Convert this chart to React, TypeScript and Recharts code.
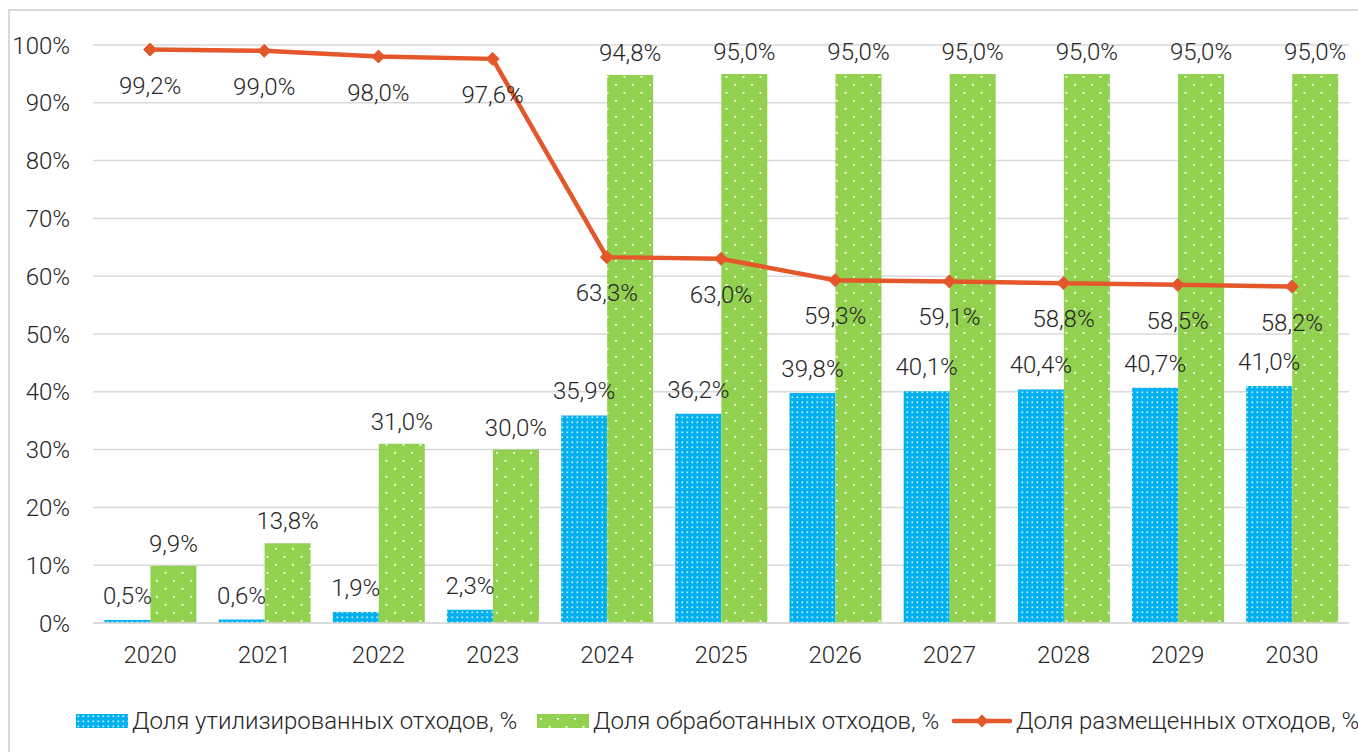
import React from 'react';
import {
  ComposedChart,
  Bar,
  Line,
  XAxis,
  YAxis,
  CartesianGrid,
  LabelList,
} from 'recharts';

const YEARS = ['2020', '2021', '2022', '2023', '2024', '2025', '2026', '2027', '2028', '2029', '2030'];
const UTILIZED = [0.5, 0.6, 1.9, 2.3, 35.9, 36.2, 39.8, 40.1, 40.4, 40.7, 41.0];
const PROCESSED = [9.9, 13.8, 31.0, 30.0, 94.8, 95.0, 95.0, 95.0, 95.0, 95.0, 95.0];
const PLACED = [99.2, 99.0, 98.0, 97.6, 63.3, 63.0, 59.3, 59.1, 58.8, 58.5, 58.2];
const Y_TICKS = [0, 10, 20, 30, 40, 50, 60, 70, 80, 90, 100];

const LEGEND_UTILIZED = 'Доля утилизированных отходов, %';
const LEGEND_PROCESSED = 'Доля обработанных отходов, %';
const LEGEND_PLACED = 'Доля размещенных отходов, %';

const BLUE = '#00B0F0';
const GREEN = '#92D050';
const ORANGE = '#E4572A';
const TEXT = '#262626';
const GRID = '#D9D9D9';
const FONT = 'Roboto, sans-serif';
const FS = 24;

const data = YEARS.map((year, i) => ({
  year,
  utilized: UTILIZED[i],
  processed: PROCESSED[i],
  placed: PLACED[i],
}));

const fmt = (v: any) => `${Number(v).toFixed(1).replace('.', ',')}%`;

function Patterns({ idPrefix = '' }: { idPrefix?: string }) {
  return (
    <defs>
      <pattern id={`${idPrefix}blueDots`} width={5} height={5} patternUnits="userSpaceOnUse">
        <rect width={5} height={5} fill={BLUE} />
        <rect x={1.5} y={1.5} width={1.6} height={1.6} fill="#fff" opacity={0.85} />
      </pattern>
      <pattern id={`${idPrefix}greenDots`} width={17} height={16} patternUnits="userSpaceOnUse">
        <rect width={17} height={16} fill={GREEN} />
        <rect x={3} y={4} width={2} height={1.6} fill="#fff" />
        <rect x={11.5} y={12} width={2} height={1.6} fill="#fff" />
      </pattern>
    </defs>
  );
}

const Diamond = (props: any) => {
  const { cx, cy } = props;
  if (cx == null || cy == null) return null;
  const r = 6.5;
  return (
    <polygon
      points={`${cx},${cy - r} ${cx + r},${cy} ${cx},${cy + r} ${cx - r},${cy}`}
      fill={ORANGE}
      stroke={ORANGE}
    />
  );
};

const labelStyle = { fontSize: FS, fill: TEXT, fontFamily: FONT, fontWeight: 300 };

function LegendItem({ left, swatch, text }: { left: number; swatch: React.ReactNode; text: string }) {
  return (
    <div
      style={{
        position: 'absolute',
        left,
        top: 706,
        height: 30,
        display: 'flex',
        alignItems: 'center',
        fontFamily: FONT,
        fontWeight: 300,
        fontSize: FS,
        color: TEXT,
        whiteSpace: 'nowrap',
      }}
    >
      {swatch}
      <span style={{ marginLeft: 4 }}>{text}</span>
    </div>
  );
}

export default function App() {
  return (
    <div
      style={{
        position: 'absolute',
        left: 0,
        top: 0,
        width: 1358,
        height: 752,
        overflow: 'hidden',
        background: '#fff',
      }}
    >
      <div
        style={{
          position: 'absolute',
          left: 8,
          top: 9,
          width: 1400,
          height: 800,
          border: `2px solid ${GRID}`,
        }}
      />
      <div style={{ position: 'absolute', left: 0, top: 0 }}>
        <ComposedChart
          width={1358}
          height={752}
          data={data}
          margin={{ top: 45, right: 9, left: 0, bottom: 0 }}
          barCategoryGap="10%"
          barGap={0}
        >
          <Patterns />
          <CartesianGrid vertical={false} stroke={GRID} strokeWidth={1.5} />
          <XAxis
            dataKey="year"
            height={129}
            tickSize={0}
            tickMargin={23}
            axisLine={{ stroke: GRID, strokeWidth: 1.5 }}
            tick={{ fontSize: FS, fill: TEXT, fontFamily: FONT, fontWeight: 300 }}
          />
          <YAxis
            width={93}
            domain={[0, 100]}
            ticks={Y_TICKS}
            tickFormatter={(v) => `${v}%`}
            tickSize={0}
            tickMargin={23}
            axisLine={false}
            tick={{ fontSize: FS, fill: TEXT, fontFamily: FONT, fontWeight: 300 }}
            interval={0}
          />
          <Bar dataKey="utilized" fill="url(#blueDots)" isAnimationActive={false}>
            <LabelList dataKey="utilized" position="top" offset={16} formatter={fmt} style={labelStyle} />
          </Bar>
          <Bar dataKey="processed" fill="url(#greenDots)" isAnimationActive={false}>
            <LabelList dataKey="processed" position="top" offset={14} formatter={fmt} style={labelStyle} />
          </Bar>
          <Line
            dataKey="placed"
            stroke={ORANGE}
            strokeWidth={4.5}
            dot={<Diamond />}
            activeDot={false}
            isAnimationActive={false}
          >
            <LabelList dataKey="placed" position="bottom" offset={27} formatter={fmt} style={labelStyle} />
          </Line>
        </ComposedChart>
      </div>

      <LegendItem
        left={76}
        text={LEGEND_UTILIZED}
        swatch={
          <svg width={52} height={14}>
            <Patterns idPrefix="lg-" />
            <rect width={52} height={14} fill="url(#lg-blueDots)" />
          </svg>
        }
      />
      <LegendItem
        left={537}
        text={LEGEND_PROCESSED}
        swatch={
          <svg width={52} height={14}>
            <Patterns idPrefix="lg2-" />
            <rect width={52} height={14} fill="url(#lg2-greenDots)" />
          </svg>
        }
      />
      <LegendItem
        left={952}
        text={LEGEND_PLACED}
        swatch={
          <svg width={60} height={16}>
            <line x1={2} y1={8} x2={58} y2={8} stroke={ORANGE} strokeWidth={4.5} strokeLinecap="round" />
            <polygon points="30,1.5 36.5,8 30,14.5 23.5,8" fill={ORANGE} />
          </svg>
        }
      />
    </div>
  );
}
